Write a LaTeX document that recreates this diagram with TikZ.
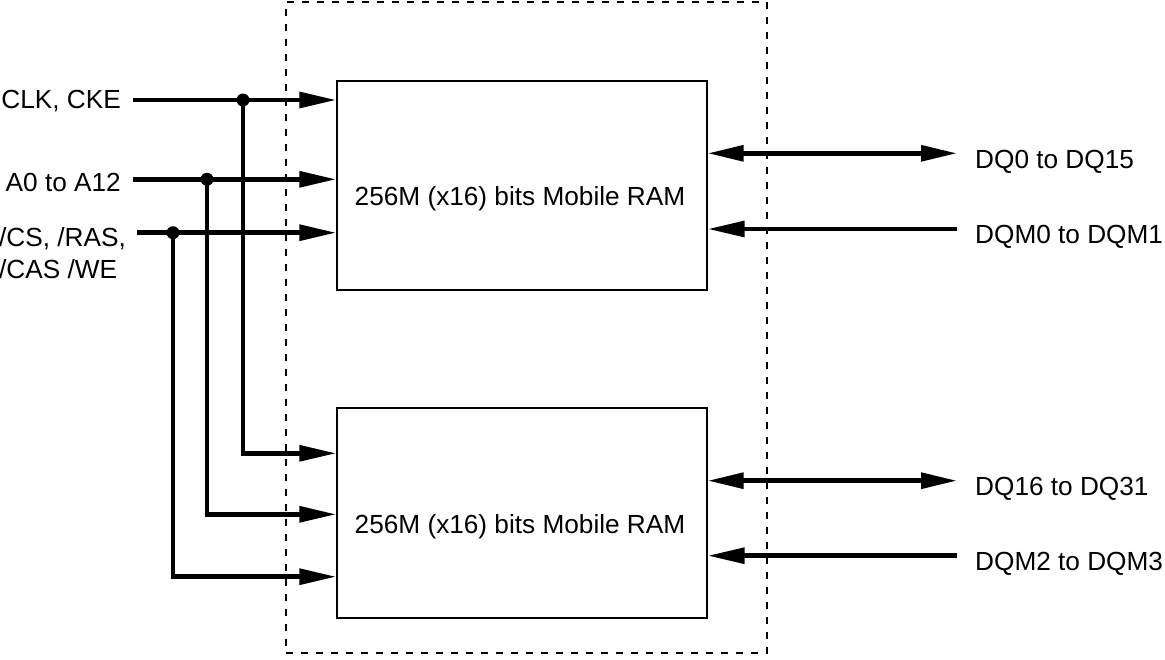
\documentclass[tikz,border=0pt]{standalone}
\usepackage{fontspec}
\setmainfont{Liberation Sans}
\usetikzlibrary{arrows.meta}
\begin{document}
\begin{tikzpicture}[x=1pt,y=-1pt,
  lbl/.style={font=\fontsize{26.2}{32.5}\selectfont, inner sep=0pt},
  ram/.style={draw, line width=1.4pt, minimum width=370pt, inner sep=0pt},
  bus/.style={line width=4.6pt, -{Triangle[length=37pt,width=15.5pt]}},
  bidir/.style={line width=4.6pt, {Triangle[length=36pt,width=15.5pt]}-{Triangle[length=36pt,width=15.5pt]}},
  jdot/.style={circle, fill, inner sep=0pt, minimum size=13pt},
  chipframe/.style={draw, line width=1.3pt, dash pattern=on 7pt off 8pt, inner sep=0pt}
]
\useasboundingbox (0,0) rectangle (1165,659);

% dashed outline
\node[chipframe, minimum width=481pt, minimum height=651pt] (chip) at (526.5,327.5) {};

% RAM boxes
\node[ram, minimum height=209pt] (ram1) at (522,185.5) {};
\node[ram, minimum height=210pt] (ram2) at (522,513) {};
\node[lbl, anchor=base] (t1) at (520,205.5) {256M (x16) bits Mobile RAM};
\node[lbl, anchor=base] (t2) at (520,533.5) {256M (x16) bits Mobile RAM};

% left labels
\node[lbl, anchor=base east] (clk) at (121,108.5) {CLK, CKE};
\node[lbl, anchor=base east] (adr) at (121,191.5) {A0 to A12};
\node[lbl, anchor=west, align=left] (cs) at (-1,253) {/CS, /RAS,\\/CAS /WE};

% right labels
\node[lbl, anchor=base west] (dq0) at (975,168.5) {DQ0 to DQ15};
\node[lbl, anchor=base west] (dqm0) at (975,243.5) {DQM0 to DQM1};
\node[lbl, anchor=base west] (dq16) at (975,495) {DQ16 to DQ31};
\node[lbl, anchor=base west] (dqm2) at (975,570) {DQM2 to DQM3};

% coordinates
\coordinate (clkS) at (133,100);
\coordinate (adrS) at (133,179.3);
\coordinate (csS) at (137,232.7);
\coordinate (j1) at (243,100);
\coordinate (j2) at (207,179.3);
\coordinate (j3) at (173,232.7);
\coordinate (l1) at (0,453.3);
\coordinate (l2) at (0,514.3);
\coordinate (l3) at (0,576.7);
\coordinate (dq0E) at (957,153.3);
\coordinate (dqm0E) at (957,229);
\coordinate (dq16E) at (957,480.7);
\coordinate (dqm2E) at (957,555.7);

% left inputs
\draw[bus] (clkS) -- (ram1.west |- clkS);
\draw[bus] (adrS) -- (ram1.west |- adrS);
\draw[bus] (csS) -- (ram1.west |- csS);
\draw[bus] (j1) |- (ram2.west |- l1);
\draw[bus] (j2) |- (ram2.west |- l2);
\draw[bus] (j3) |- (ram2.west |- l3);
\node[jdot] (d1) at (j1) {};
\node[jdot] (d2) at (j2) {};
\node[jdot] (d3) at (j3) {};

% right side
\draw[bidir] (ram1.east |- dq0E) -- (dq0E);
\draw[bus] (dqm0E) -- (ram1.east |- dqm0E);
\draw[bidir] (ram2.east |- dq16E) -- (dq16E);
\draw[bus] (dqm2E) -- (ram2.east |- dqm2E);
\end{tikzpicture}
\end{document}
